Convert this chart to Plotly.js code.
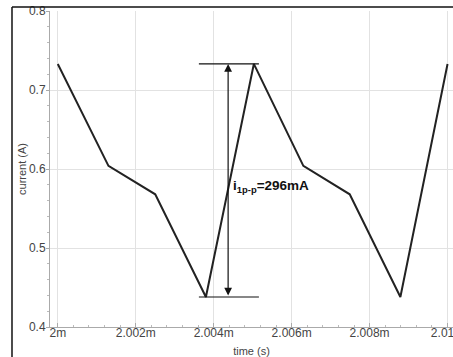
<!DOCTYPE html>
<html>
<head>
<meta charset="utf-8">
<script src="https://cdn.plot.ly/plotly-3.0.1.min.js"></script>
<style>html,body{margin:0;padding:0;background:#fff;}#chart{width:453px;height:357px;}</style>
</head>
<body>
<div id="chart"></div>
<script>
// time in seconds
const timeS = [2.0000e-3, 2.0013e-3, 2.0025e-3, 2.0038e-3, 2.00503e-3, 2.0063e-3, 2.00749e-3, 2.00879e-3, 2.0100e-3];
// current in amperes
const currentA = [0.733, 0.604, 0.568, 0.438, 0.733, 0.604, 0.568, 0.438, 0.733];
const xTickVals = [2.000e-3, 2.002e-3, 2.004e-3, 2.006e-3, 2.008e-3, 2.010e-3];
const xTickText = ["2m", "2.002m", "2.004m", "2.006m", "2.008m", "2.01m"];
const yTickVals = [0.4, 0.5, 0.6, 0.7, 0.8];
const yTickText = ["0.4", "0.5", "0.6", "0.7", "0.8"];
const ppLabel = "i<sub>1p-p</sub>=296mA";

const iMax = Math.max(...currentA);
const iMin = Math.min(...currentA);
const xArrow = 2.00437e-3;
const xLineL = 2.00362e-3, xLineR = 2.00516e-3;

const trace = {
  x: timeS, y: currentA, type: 'scatter', mode: 'lines',
  line: {color: '#222', width: 2}, hoverinfo: 'skip', showlegend: false
};

const axisFont = {family: 'Liberation Sans, Arial, sans-serif', size: 12, color: '#444'};
const titleFont = {family: 'Liberation Sans, Arial, sans-serif', size: 11, color: '#444'};

const layout = {
  width: 453, height: 357,
  margin: {l: 50, r: 0, t: 11, b: 30, pad: 0},
  paper_bgcolor: '#fff', plot_bgcolor: '#fff',
  showlegend: false,
  xaxis: {
    range: [1.9998e-3, 2.01014e-3],
    tickvals: xTickVals, ticktext: xTickText,
    showgrid: true, gridcolor: '#e2e2e2', gridwidth: 1,
    zeroline: false, showline: true, linecolor: '#aaa', linewidth: 1,
    ticks: 'inside', ticklen: 4, tickcolor: '#aaa',
    minor: {dtick: 0.0004e-3, ticks: 'inside', ticklen: 2, tickcolor: '#bbb', showgrid: false},
    tickfont: axisFont,
    ticklabeloverflow: 'allow',
    ticklabelstandoff: -5,
    title: {text: 'time (s)', font: titleFont, standoff: 9}
  },
  yaxis: {
    range: [0.4, 0.8],
    tickvals: yTickVals, ticktext: yTickText,
    showgrid: true, gridcolor: '#e2e2e2', gridwidth: 1,
    zeroline: false, showline: true, linecolor: '#aaa', linewidth: 1,
    ticks: 'outside', ticklen: 3, tickcolor: '#aaa',
    minor: {dtick: 0.02, ticks: 'outside', ticklen: 2, tickcolor: '#bbb', showgrid: false},
    tickfont: axisFont,
    ticklabelstandoff: -2,
    title: {text: ''}
  },
  shapes: [
    {type: 'line', xref: 'x', yref: 'y', x0: xLineL, x1: xLineR, y0: iMax, y1: iMax, line: {color: '#111', width: 1.2}},
    {type: 'line', xref: 'x', yref: 'y', x0: xLineL, x1: xLineR, y0: iMin, y1: iMin, line: {color: '#111', width: 1.2}},
    {type: 'line', xref: 'paper', yref: 'paper', x0: -0.0943, x1: 1.1, y0: 1.0127, y1: 1.0127, line: {color: '#111', width: 1.5}, layer: 'above'},
    {type: 'line', xref: 'paper', yref: 'paper', x0: -0.0943, x1: -0.0943, y0: 1.0127, y1: -0.2, line: {color: '#111', width: 1.5}, layer: 'above'}
  ],
  annotations: [
    {x: xArrow, y: iMax, ax: xArrow, ay: iMin, xref: 'x', yref: 'y', axref: 'x', ayref: 'y',
     text: '', showarrow: true, arrowhead: 2, arrowside: 'end+start', arrowsize: 1.3, arrowwidth: 1.2,
     arrowcolor: '#111', standoff: 0, startstandoff: 0},
    {x: 2.00444e-3, y: 0.578, xref: 'x', yref: 'y', xanchor: 'left', yanchor: 'middle',
     text: '<b>' + ppLabel + '</b>', showarrow: false,
     font: {family: 'Liberation Sans, Arial, sans-serif', size: 13.5, color: '#111'}},
    {x: -0.0695, y: 0.5, xref: 'paper', yref: 'paper', xanchor: 'center', yanchor: 'middle',
     text: 'current (A)', textangle: -90, showarrow: false, font: titleFont}
  ]
};

Plotly.newPlot('chart', [trace], layout, {displayModeBar: false, staticPlot: true});
</script>
</body>
</html>
